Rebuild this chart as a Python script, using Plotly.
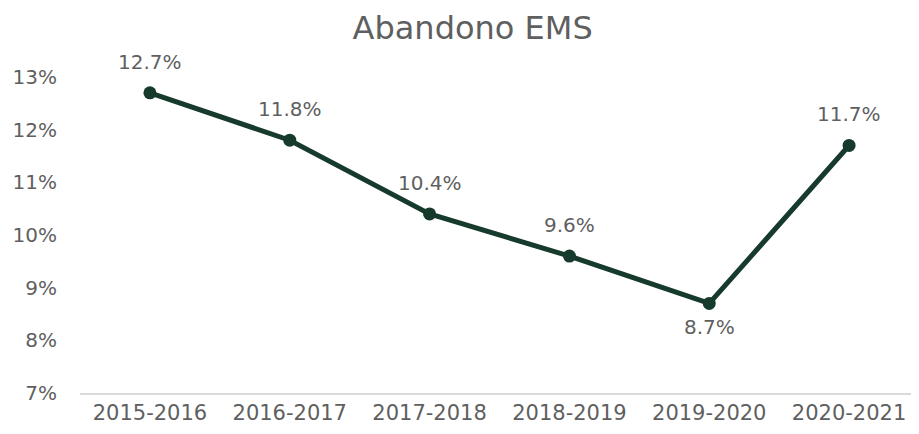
import plotly.graph_objects as go

categories = ["2015-2016", "2016-2017", "2017-2018", "2018-2019", "2019-2020", "2020-2021"]
values = [12.7, 11.8, 10.4, 9.6, 8.7, 11.7]
label_above = [True, True, True, True, False, True]
y_ticks = [7, 8, 9, 10, 11, 12, 13]
y_tick_labels = ["7%", "8%", "9%", "10%", "11%", "12%", "13%"]

FONT = "DejaVu Sans"
WEIGHT = 400
GRAY = "#5f5f5f"
GREEN = "#163a2c"

fig = go.Figure()
fig.add_trace(go.Scatter(
    x=categories, y=values,
    mode="lines+markers",
    line=dict(color=GREEN, width=5),
    marker=dict(color=GREEN, size=13),
    cliponaxis=False,
    showlegend=False,
))

for c, v, up in zip(categories, values, label_above):
    fig.add_annotation(
        x=c, y=v, xref="x", yref="y", text=f"{v:.1f}%", showarrow=False,
        yshift=31 if up else -24,
        font=dict(family=FONT, size=20, color=GRAY, weight=WEIGHT),
    )

fig.update_layout(
    width=911, height=426,
    margin=dict(l=72, r=0, t=69, b=41),
    paper_bgcolor="white", plot_bgcolor="white",
    title=dict(text="Abandono EMS", x=0.51, xanchor="center", y=0.953, yanchor="middle",
               font=dict(family=FONT, size=32, color=GRAY, weight=WEIGHT)),
    font=dict(family=FONT, color=GRAY),
)
fig.update_xaxes(
    type="category", range=[-0.5, 5.5], showgrid=False, showline=True,
    linecolor="#d9d9d9", linewidth=2, ticks="",
    tickfont=dict(family=FONT, size=21, color=GRAY, weight=WEIGHT),
)
fig.update_yaxes(
    range=[7, 13], tickvals=y_ticks, ticktext=y_tick_labels, showgrid=False,
    zeroline=False, showline=False, ticks="", ticklabelstandoff=22,
    tickfont=dict(family=FONT, size=20, color=GRAY, weight=WEIGHT),
)

fig.write_html("out.html")
